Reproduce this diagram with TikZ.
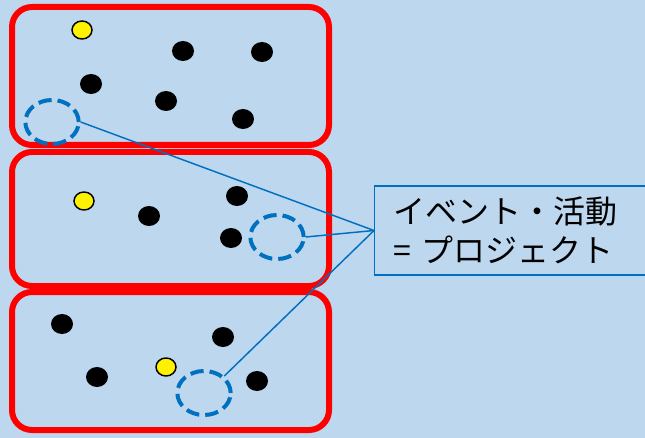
\documentclass[tikz,border=0pt]{standalone}
\usepackage{fontspec}
\newfontfamily\jpfont{Noto Sans CJK JP}
\usetikzlibrary{shapes.geometric}
\definecolor{bgblue}{RGB}{189,215,238}
\definecolor{linkblue}{RGB}{0,112,192}
\tikzset{every picture/.style={line width=0.75pt}}
\tikzset{
  groupbox/.style={draw=red, line width=4.5pt, rounded corners=15pt},
  dot/.style={ellipse, fill=black, minimum width=16.5pt, minimum height=15pt, inner sep=0pt},
  leader/.style={ellipse, draw=black, fill=yellow, line width=1.1pt, minimum width=15pt, minimum height=13.5pt, inner sep=0pt},
  project/.style={ellipse, draw=linkblue, line width=3pt, dash pattern=on 10pt off 4.5pt, minimum width=40pt, minimum height=33pt, inner sep=0pt},
  link/.style={draw=linkblue, line width=1.1pt},
  labelbox/.style={draw=linkblue, line width=1.1pt, anchor=west, minimum height=66.75pt, inner xsep=14pt, text width=186.5pt, align=left, font=\jpfont\fontsize{24}{29}\selectfont}
}
\begin{document}
\begin{tikzpicture}[x=0.75pt,y=0.75pt,yscale=-1]
			\fill[bgblue] (0,0) rectangle (645,438);
			\useasboundingbox (0,0) rectangle (645,438);
			% groups
			\draw[groupbox] (12,7) rectangle (329,145);
			\draw[groupbox] (12,152) rectangle (329,286);
			\draw[groupbox] (12,292) rectangle (329,430);
			% upper group
			\node[leader] (y1) at (82,30) {};
			\node[dot] (a1) at (183,51) {};
			\node[dot] (a2) at (262,52) {};
			\node[dot] (a3) at (91,84) {};
			\node[dot] (a4) at (166,101) {};
			\node[dot] (a5) at (243,119) {};
			\node[project] (p1) at (52,122) {};
			% middle group
			\node[leader] (y2) at (84,201) {};
			\node[dot] (b1) at (149,216) {};
			\node[dot] (b2) at (237,196) {};
			\node[dot] (b3) at (231,238) {};
			\node[project] (p2) at (277,237) {};
			% lower group
			\node[dot] (c1) at (62,324) {};
			\node[dot] (c2) at (223,337) {};
			\node[dot] (c3) at (97,377) {};
			\node[leader] (y3) at (166,367) {};
			\node[dot] (c4) at (257,381) {};
			\node[project] (p3) at (204,393) {};
			% label
			\node[labelbox] (label) at (374,230.5) {イベント・活動\\= プロジェクト};
			\draw[link] (p1.east) -- (label.west);
			\draw[link] (p2.east) -- (label.west);
			\draw[link] (p3.north east) -- (label.west);
		\end{tikzpicture}
\end{document}
